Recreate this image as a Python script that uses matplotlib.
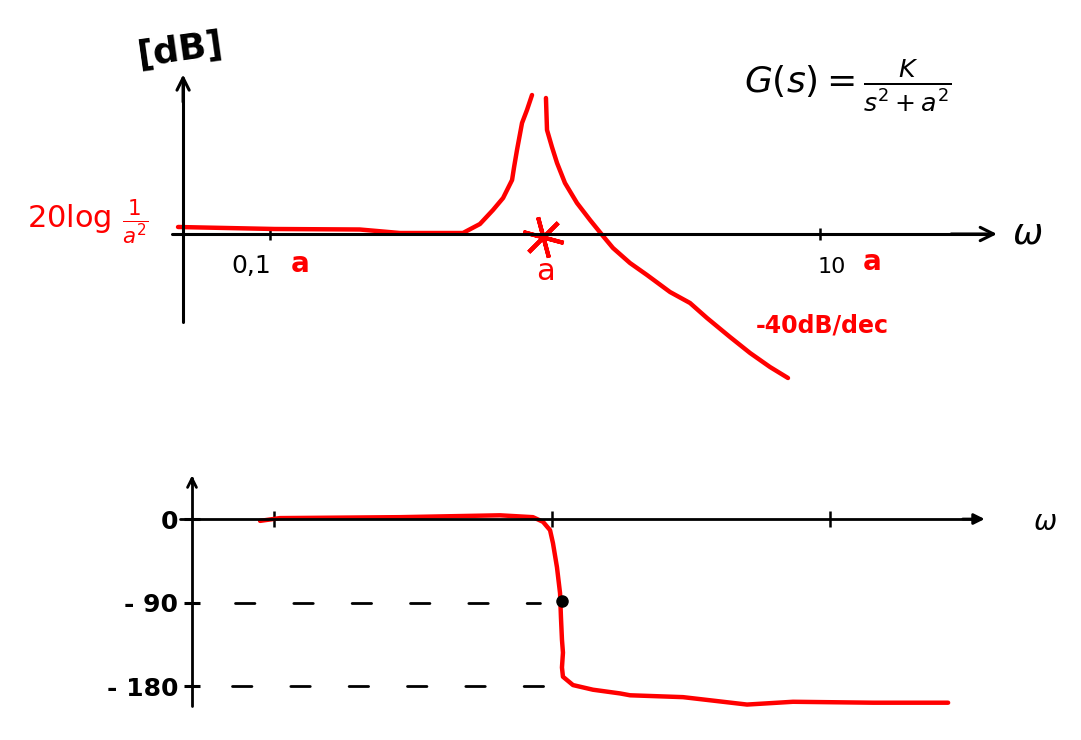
import numpy as np
import matplotlib
matplotlib.use("Agg")
import matplotlib.pyplot as plt
from matplotlib.ticker import NullLocator

plt.rcParams['font.family'] = ['DejaVu Sans']
plt.rcParams['mathtext.fontset'] = 'dejavusans'

# ---- data (frequency as w/a, magnitude in dB relative to 20log(1/a^2)) ----
mag_left_w = [0.0463, 0.104, 0.212, 0.297, 0.415, 0.503, 0.580, 0.647, 0.704, 0.759,
              0.772, 0.791, 0.825, 0.860, 0.897]
mag_left_db = [1.0, 0.6, 0.5, -0.2, -0.2, -0.2, 1.6, 4.4, 6.8, 10.4,
               13.0, 16.4, 21.8, 24.4, 27.4]
mag_right_w = [1.008, 1.017, 1.060, 1.106, 1.182, 1.307, 1.458, 1.625, 1.767, 2.037,
               2.349, 2.848, 3.368, 3.882, 4.707, 5.568, 6.579, 7.649]
mag_right_db = [26.8, 20.4, 17.0, 13.8, 9.8, 5.8, 2.4, -0.8, -3.2, -6.2,
                -8.6, -12.0, -14.2, -17.2, -21.0, -24.2, -27.0, -29.2]

phase_w = [0.0891, 0.105, 0.284, 0.650, 0.854, 0.928, 0.984, 1.008, 1.042, 1.069,
           1.077, 1.086, 1.095, 1.086, 1.095, 1.190, 1.404, 1.757, 1.909, 2.96,
           5.03, 7.36, 14.3, 26.6]
phase_deg = [-2, 1, 2, 4, 2, -3, -12, -26, -52, -80,
             -106, -130, -144, -160, -170, -179, -184, -188, -190, -192,
             -200, -197, -198, -198]

mag_xticks = [0.1, 10]
phase_xticks = [0.1, 1, 10]
phase_yticks = [0, -90, -180]
phase_yticklabels = ['0', '- 90', '- 180']
guide_levels = [-90, -180]
guide_start_w = [0.0725, 0.0708]
guide_end_w = [0.905, 0.944]
half_power_w = 1.083
half_power_deg = -88

W, H = 1081, 740
fig = plt.figure(figsize=(W / 100, H / 100), dpi=100)

def fx(px):
    return px / W

def fy(py):
    return 1 - py / H

ax1 = fig.add_axes([0, 1 - 400 / H, 1, 400 / H])
ax2 = fig.add_axes([0, 0, 1, 340 / H])
for ax in (ax1, ax2):
    ax.set_xscale('log')
    ax.patch.set_visible(False)
    ax.spines['top'].set_visible(False)
    ax.spines['right'].set_visible(False)
    ax.xaxis.set_minor_locator(NullLocator())
    ax.yaxis.set_minor_locator(NullLocator())

# ---------------- magnitude ----------------
ax1.set_xlim(10 ** (-545 / 275), 10 ** ((W - 545) / 275))
ax1.set_ylim(-33.6, 46.4)
y_axis_w = 0.0483
ax1.spines['left'].set_position(('data', y_axis_w))
ax1.spines['left'].set_bounds(-18, 30)
ax1.spines['bottom'].set_position(('data', -0.4))
ax1.spines['bottom'].set_bounds(0.044, 42)
for s in ('left', 'bottom'):
    ax1.spines[s].set_linewidth(2.2)
    ax1.spines[s].set_capstyle('round')
ax1.set_yticks([])
ax1.set_xticks(mag_xticks)
ax1.set_xticklabels([''] * len(mag_xticks))
ax1.tick_params(axis='x', direction='inout', length=9, width=1.8, color='black')
ax1.annotate('', xy=(y_axis_w, 31.5), xytext=(y_axis_w, 26),
             arrowprops=dict(arrowstyle='->', lw=2.2, mutation_scale=22, shrinkA=0, shrinkB=0))
ax1.annotate('', xy=(44, -0.4), xytext=(30, -0.4),
             arrowprops=dict(arrowstyle='->', lw=2.2, mutation_scale=24, shrinkA=0, shrinkB=0))

ax1.plot(mag_left_w, mag_left_db, color='red', lw=3.2, solid_capstyle='round', solid_joinstyle='round')
ax1.plot(mag_right_w, mag_right_db, color='red', lw=3.2, solid_capstyle='round', solid_joinstyle='round')
ax1.plot([0.985], [-1.0], marker=(6, 2, 15), ms=30, mew=3, color='red', ls='none')

fig.text(fx(180), fy(50), '[dB]', fontsize=26, fontweight='bold', ha='center', va='center', rotation=8)
fig.text(fx(88), fy(222), r'$20\log\,\frac{1}{a^2}$', fontsize=22, color='red', ha='center', va='center')
fig.text(fx(251), fy(266), '0,1', fontsize=18, ha='center', va='center')
fig.text(fx(300), fy(264), 'a', fontsize=20, fontweight='bold', color='red', ha='center', va='center')
fig.text(fx(545), fy(272), 'a', fontsize=22, color='red', ha='center', va='center')
fig.text(fx(832), fy(267), '10', fontsize=16, ha='center', va='center')
fig.text(fx(872), fy(262), 'a', fontsize=20, fontweight='bold', color='red', ha='center', va='center')
fig.text(fx(1027), fy(234), r'$\omega$', fontsize=26, ha='center', va='center')
fig.text(fx(822), fy(325), '-40dB/dec', fontsize=17, fontweight='bold', color='red', ha='center', va='center')
fig.text(fx(848), fy(85), r'$G(s)=\frac{K}{s^2+a^2}$', fontsize=26, ha='center', va='center')

# ---------------- phase ----------------
ax2.set_xlim(10 ** (-552 / 278), 10 ** ((W - 552) / 278))
ax2.set_ylim(-238.2, 128.3)
p_axis_w = 0.0507
ax2.spines['left'].set_position(('data', p_axis_w))
ax2.spines['left'].set_bounds(-202, 44)
ax2.spines['bottom'].set_position(('data', 0))
ax2.spines['bottom'].set_bounds(0.0459, 33)
for s in ('left', 'bottom'):
    ax2.spines[s].set_linewidth(2.0)
    ax2.spines[s].set_capstyle('round')
ax2.set_yticks(phase_yticks)
ax2.set_yticklabels(phase_yticklabels, fontsize=18, fontweight='bold')
ax2.tick_params(axis='y', direction='inout', length=12, width=2.2, pad=4)
ax2.set_xticks(phase_xticks)
ax2.set_xticklabels([''] * len(phase_xticks))
ax2.tick_params(axis='x', direction='inout', length=12, width=1.8)
ax2.annotate('', xy=(p_axis_w, 47), xytext=(p_axis_w, 38),
             arrowprops=dict(arrowstyle='->', lw=2.0, mutation_scale=16, shrinkA=0, shrinkB=0))
ax2.annotate('', xy=(36, 0), xytext=(30, 0),
             arrowprops=dict(arrowstyle='-|>', lw=2.0, mutation_scale=16, color='black', shrinkA=0, shrinkB=0))

for lvl, w0, w1 in zip(guide_levels, guide_start_w, guide_end_w):
    ax2.plot([w0, w1], [lvl, lvl], color='black', lw=2, dashes=(7, 14), dash_capstyle='round')

ax2.plot(phase_w, phase_deg, color='red', lw=3.2, solid_capstyle='round', solid_joinstyle='round')
ax2.plot([half_power_w], [half_power_deg], 'o', color='black', ms=8)
fig.text(fx(1045), fy(522), r'$\omega$', fontsize=20, ha='center', va='center')

fig.savefig('out.png', dpi=100)
